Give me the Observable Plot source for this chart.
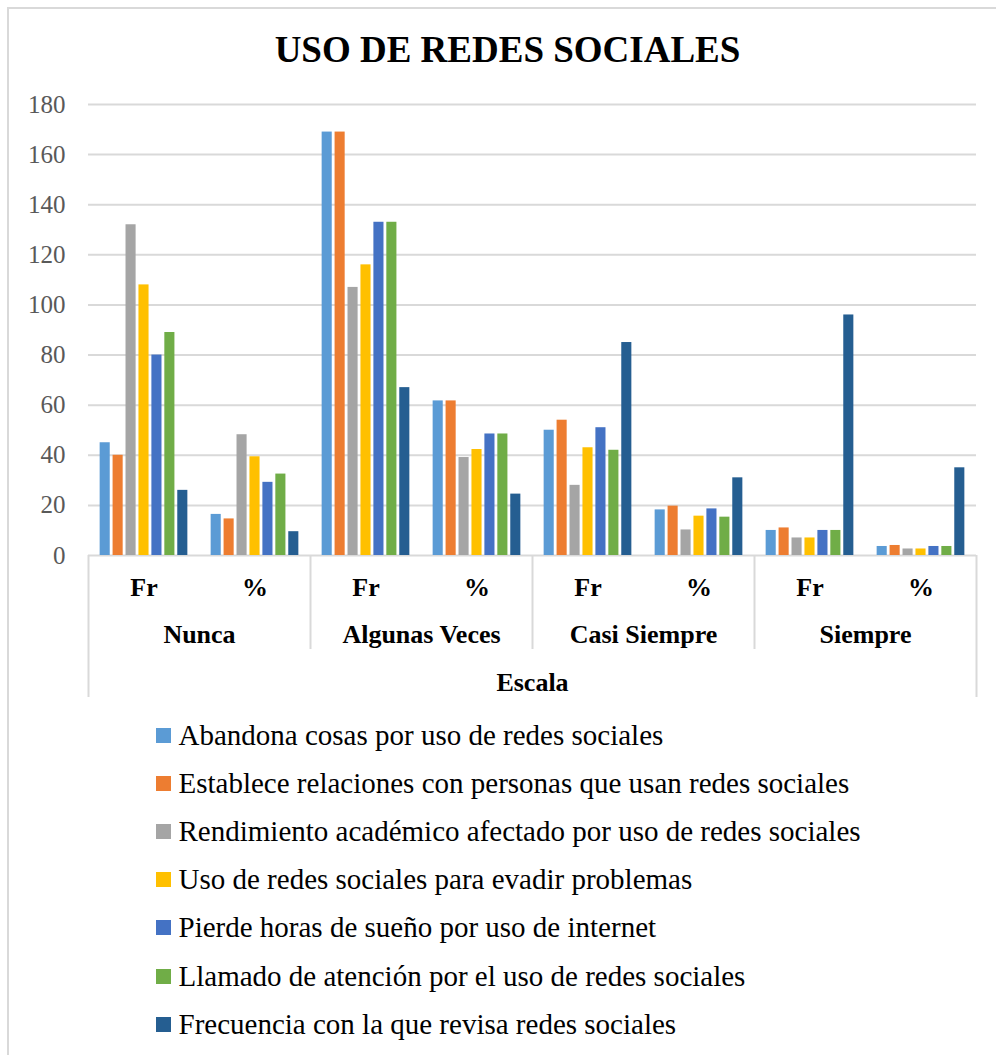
<!DOCTYPE html>
<html>
<head>
<meta charset="utf-8">
<script src="https://cdn.jsdelivr.net/npm/d3@7"></script>
<script src="https://cdn.jsdelivr.net/npm/@observablehq/plot@0.6"></script>
<style>
  html, body { margin: 0; padding: 0; background: #fff; }
  #wrap { position: relative; width: 996px; height: 1055px; overflow: hidden;
          font-family: "Liberation Serif", "Times New Roman", serif; }
  #border { position: absolute; left: 7px; top: 7px; width: 1100px; height: 1100px;
            border-left: 2px solid #d9d9d9; border-top: 2px solid #d9d9d9; }
  #title { position: absolute; left: 0; top: 31px; width: 1015px; text-align: center;
           font-size: 37px; line-height: 37px; font-weight: bold; color: #000; }
  #chart { position: absolute; left: 0; top: 0; }
  .item { position: absolute; left: 156px; height: 48px; display: flex; align-items: center;
          white-space: nowrap; font-size: 29px; color: #000; }
  .sw { width: 15px; height: 15px; margin-right: 7.5px; flex: none; }
</style>
</head>
<body>
<div id="wrap">
  <div id="border"></div>
  <div id="chart"></div>
  <div id="title"></div>
  <div id="legend"></div>
</div>
<script>
// ---- Data ----
const titulo = "USO DE REDES SOCIALES";
const escala = ["Nunca", "Algunas Veces", "Casi Siempre", "Siempre"];
const medidas = ["Fr", "%"];
const ejeTitulo = "Escala";
const series = [
  "Abandona cosas por uso de redes sociales",
  "Establece relaciones con personas que usan redes sociales",
  "Rendimiento académico afectado por uso de redes sociales",
  "Uso de redes sociales para evadir problemas",
  "Pierde horas de sueño por uso de internet",
  "Llamado de atención por el uso de redes sociales",
  "Frecuencia con la que revisa redes sociales"
];
const colores = ["#5B9BD5", "#ED7D31", "#A5A5A5", "#FFC000", "#4472C4", "#70AD47", "#255E91"];
// order: Nunca Fr, Nunca %, Algunas Fr, Algunas %, Casi Fr, Casi %, Siempre Fr, Siempre %
const abandona    = [45, 16.4, 169, 61.7, 50, 18.2, 10, 3.6];
const establece   = [40, 14.6, 169, 61.7, 54, 19.7, 11, 4.0];
const rendimiento = [132, 48.2, 107, 39.1, 28, 10.2, 7, 2.6];
const evadir      = [108, 39.4, 116, 42.3, 43, 15.7, 7, 2.6];
const sueno       = [80, 29.2, 133, 48.5, 51, 18.6, 10, 3.6];
const llamado     = [89, 32.5, 133, 48.5, 42, 15.3, 10, 3.6];
const frecuencia  = [26, 9.5, 67, 24.5, 85, 31.0, 96, 35.0];
const yTicks = [0, 20, 40, 60, 80, 100, 120, 140, 160, 180];

// ---- Build table ----
const valores = [abandona, establece, rendimiento, evadir, sueno, llamado, frecuencia];
const keys = escala.flatMap(g => medidas.map(m => `${g}|${m}`));
const data = series.flatMap((s, j) => keys.map((k, i) => ({key: k, serie: s, value: valores[j][i]})));
const frKeys = escala.map(g => `${g}|${medidas[0]}`);
const lastKey = keys[keys.length - 1];
const midKey = keys[keys.length / 2 - 1];

const W = 996, mL = 88, mR = 20;
const fw = (W - mL - mR) / keys.length;
const gridColor = "#d9d9d9";
const font = "'Liberation Serif', 'Times New Roman', serif";
const bold = {anchor: "bottom", fontSize: 26, fontWeight: "bold", fill: "#000", label: null, tickSize: 0};
const line = {anchor: "bottom", fill: "none", stroke: gridColor, strokeWidth: 2, label: null};

const chart = Plot.plot({
  width: W,
  height: 705,
  marginTop: 104,
  marginBottom: 150,
  marginLeft: mL,
  marginRight: mR,
  style: {fontFamily: font, background: "transparent", overflow: "visible"},
  fx: {domain: keys, padding: 0, round: false},
  x: {domain: series, paddingInner: 0.22, paddingOuter: 0.9, round: false, axis: null},
  y: {domain: [0, 180]},
  color: {domain: series, range: colores},
  marks: [
    Plot.gridY(yTicks, {stroke: gridColor, strokeOpacity: 1, strokeWidth: 2}),
    Plot.axisY(yTicks, {tickSize: 0, tickPadding: 23, fontSize: 25, fill: "#595959", label: null}),
    Plot.barY(data, {fx: "key", x: "serie", y: "value", fill: "serie"}),
    // category axis: box lines
    Plot.axisFx({...line, ticks: frKeys.slice(1), tickSize: 94, dx: -fw / 2}),
    Plot.axisFx({...line, ticks: [frKeys[0]], tickSize: 142, dx: -fw / 2}),
    Plot.axisFx({...line, ticks: [lastKey], tickSize: 142, dx: fw / 2}),
    // category axis: labels
    Plot.axisFx({...bold, ticks: keys, tickPadding: 22, tickFormat: k => k.split("|")[1]}),
    Plot.axisFx({...bold, ticks: frKeys, tickPadding: 69.5, tickFormat: k => k.split("|")[0], dx: fw / 2}),
    Plot.axisFx({...bold, ticks: [midKey], tickPadding: 117, tickFormat: () => ejeTitulo, dx: fw / 2})
  ]
});
document.getElementById("chart").appendChild(chart);

// ---- Title & legend ----
document.getElementById("title").textContent = titulo;
const legend = document.getElementById("legend");
series.forEach((s, i) => {
  const row = document.createElement("div");
  row.className = "item";
  row.style.top = (711.5 + 48.1 * i) + "px";
  const sw = document.createElement("span");
  sw.className = "sw";
  sw.style.background = colores[i];
  const t = document.createElement("span");
  t.textContent = s;
  row.appendChild(sw);
  row.appendChild(t);
  legend.appendChild(row);
});
</script>
</body>
</html>
